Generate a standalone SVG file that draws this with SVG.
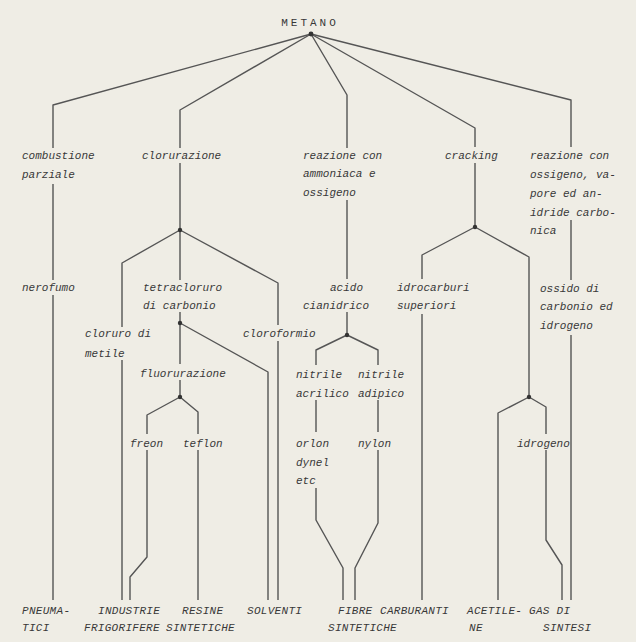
<svg xmlns="http://www.w3.org/2000/svg" width="636" height="642" viewBox="0 0 636 642">
<style>
text{font-family:"Liberation Mono","DejaVu Sans Mono",monospace;font-size:11px;font-style:italic;fill:#383838}
.cap{letter-spacing:0.3px}
.c path{fill:none;stroke:#555;stroke-width:1.4;stroke-linejoin:round}
.dot{fill:#333}
</style>
<rect width="636" height="642" fill="#efede5"/>
<g class="c" id="connectors">
<path d="M311,34 L53,105 V148 M53,184 V280 M53,295 V600"/>
<path d="M311,34 L180,110 V148 M180,163 V230"/>
<path d="M180,230 L122,263 V327 M122,360 V600"/>
<path d="M180,230 L278,283 V325 M278,341 V600"/>
<path d="M180,230 V280 M180,312 V323"/>
<path d="M180,323 L268,372 V600"/>
<path d="M180,323 V364 M180,380 V397"/>
<path d="M180,397 L147,415 V434 M147,450 V557 L130,577 V600"/>
<path d="M180,397 L198,412 V434 M198,450 V600"/>
<path d="M311,34 L347,95 V148 M347,200 V279 M347,312 V335"/>
<path d="M347,335 L316,350 V365 M316,400 V432 M316,488 V520 L343,568 V600"/>
<path d="M347,335 L378,350 V365 M378,400 V432 M378,450 V523 L355,568 V600"/>
<path d="M311,34 L475,128 V147 M475,163 V227"/>
<path d="M475,227 L422,255 V279 M422,314 V600"/>
<path d="M475,227 L529,257 V397"/>
<path d="M529,397 L498,413 V600"/>
<path d="M529,397 L546,407 V434 M546,450 V540 L562,565 V600"/>
<path d="M311,34 L571,100 V147 M571,220 V280 M571,335 V600"/>
</g>
<g id="metano"><text x="310" y="26" text-anchor="middle" class="cap" style="letter-spacing:3px;font-style:normal">METANO</text><circle class="dot" cx="311" cy="34" r="2.4"/></g>
<g id="combustione"><text x="22" y="159">combustione</text><text x="22" y="178">parziale</text></g>
<g id="clorurazione"><text x="142" y="159">clorurazione</text><circle class="dot" cx="180" cy="230" r="2.2"/></g>
<g id="ammoniaca"><text x="303" y="159">reazione con</text><text x="303" y="177">ammoniaca e</text><text x="303" y="196">ossigeno</text></g>
<g id="cracking"><text x="445" y="159">cracking</text><circle class="dot" cx="475" cy="227" r="2.2"/></g>
<g id="reazione-ossigeno"><text x="530" y="159">reazione con</text><text x="530" y="178">ossigeno, va-</text><text x="530" y="197">pore ed an-</text><text x="530" y="216">idride carbo-</text><text x="530" y="234">nica</text></g>
<g id="nerofumo"><text x="22" y="291">nerofumo</text></g>
<g id="tetracloruro"><text x="143" y="291">tetracloruro</text><text x="143" y="309">di carbonio</text><circle class="dot" cx="180" cy="323" r="2.2"/></g>
<g id="acido"><text x="330" y="291">acido</text><text x="303" y="309">cianidrico</text><circle class="dot" cx="347" cy="335" r="2.2"/></g>
<g id="idrocarburi"><text x="397" y="291">idrocarburi</text><text x="397" y="309">superiori</text></g>
<g id="ossido"><text x="540" y="292">ossido di</text><text x="540" y="310">carbonio ed</text><text x="540" y="329">idrogeno</text><circle class="dot" cx="529" cy="397" r="2.2"/></g>
<g id="cloruro"><text x="85" y="337">cloruro di</text><text x="85" y="357">metile</text></g>
<g id="cloroformio"><text x="243" y="337">cloroformio</text></g>
<g id="fluorurazione"><text x="140" y="377">fluorurazione</text><circle class="dot" cx="180" cy="397" r="2.2"/></g>
<g id="nitrile-acrilico"><text x="296" y="378">nitrile</text><text x="296" y="397">acrilico</text></g>
<g id="nitrile-adipico"><text x="358" y="378">nitrile</text><text x="358" y="397">adipico</text></g>
<g id="freon"><text x="130" y="447">freon</text></g>
<g id="teflon"><text x="183" y="447">teflon</text></g>
<g id="orlon"><text x="296" y="447">orlon</text><text x="296" y="466">dynel</text><text x="296" y="484">etc</text></g>
<g id="nylon"><text x="358" y="447">nylon</text></g>
<g id="idrogeno"><text x="517" y="447">idrogeno</text></g>
<g id="pneumatici"><text class="cap" x="22" y="614">PNEUMA-</text><text class="cap" x="22" y="631">TICI</text></g>
<g id="industrie"><text class="cap" x="98" y="614">INDUSTRIE</text><text class="cap" x="84" y="631">FRIGORIFERE</text></g>
<g id="resine"><text class="cap" x="182" y="614">RESINE</text><text class="cap" x="166" y="631">SINTETICHE</text></g>
<g id="solventi"><text class="cap" x="247" y="614">SOLVENTI</text></g>
<g id="fibre"><text class="cap" x="338" y="614">FIBRE</text><text class="cap" x="328" y="631">SINTETICHE</text></g>
<g id="carburanti"><text class="cap" x="380" y="614">CARBURANTI</text></g>
<g id="acetilene"><text class="cap" x="467" y="614">ACETILE-</text><text class="cap" x="469" y="631">NE</text></g>
<g id="gas"><text class="cap" x="529" y="614">GAS  DI</text><text class="cap" x="543" y="631">SINTESI</text></g>
</svg>
